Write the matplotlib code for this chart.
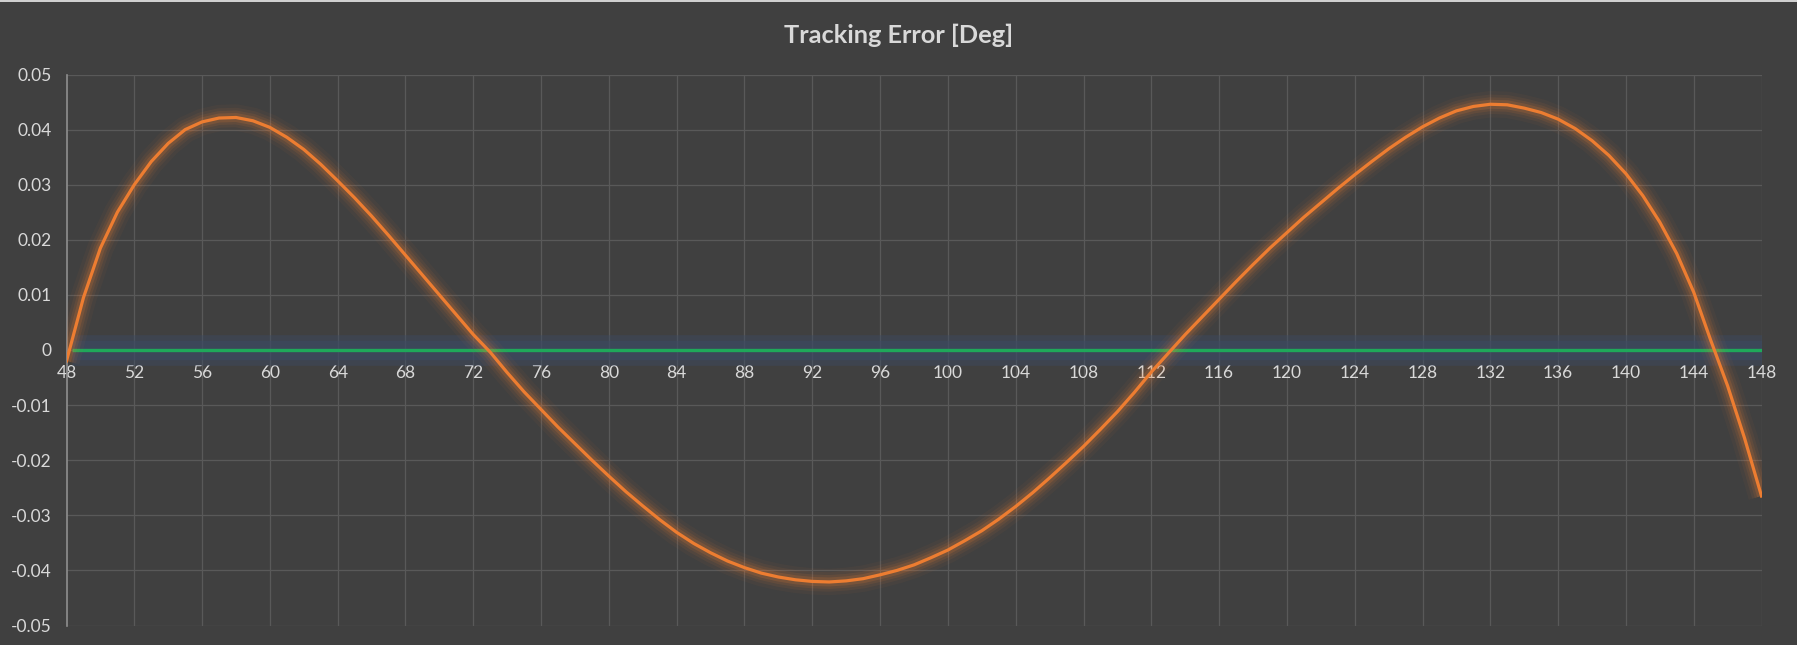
import matplotlib
matplotlib.use("Agg")
import matplotlib.pyplot as plt
from matplotlib.patches import Rectangle

# tracking error, one value per degree from 48 to 148
angle = list(range(48, 149))
error = [-0.0020, 0.0095, 0.0185, 0.0250, 0.0300, 0.0342, 0.0375, 0.0400,
         0.0414, 0.0421, 0.0422, 0.0416, 0.0404, 0.0386, 0.0364, 0.0337,
         0.0307, 0.0276, 0.0243, 0.0208, 0.0172, 0.0136, 0.0100, 0.0064,
         0.0028, -0.0004, -0.0041, -0.0076, -0.0108, -0.0140, -0.0170, -0.0200,
         -0.0229, -0.0257, -0.0283, -0.0308, -0.0331, -0.0351, -0.0368, -0.0383,
         -0.0395, -0.0405, -0.0412, -0.0417, -0.0420, -0.0421, -0.0419, -0.0415,
         -0.0408, -0.0400, -0.0390, -0.0377, -0.0363, -0.0346, -0.0328, -0.0307,
         -0.0284, -0.0259, -0.0232, -0.0204, -0.0175, -0.0144, -0.0112, -0.0077,
         -0.0040, -0.0006, 0.0028, 0.0060, 0.0092, 0.0124, 0.0155, 0.0185,
         0.0213, 0.0241, 0.0267, 0.0293, 0.0318, 0.0342, 0.0365, 0.0386,
         0.0405, 0.0421, 0.0434, 0.0442, 0.0446, 0.0445, 0.0439, 0.0431,
         0.0419, 0.0402, 0.0380, 0.0353, 0.0320, 0.0280, 0.0232, 0.0175,
         0.0105, 0.0018, -0.0065, -0.0160, -0.0265]

# zero reference line
zero_x = [48.3, 148]
zero_y = [0.0, 0.0]

x_ticks = list(range(48, 149, 4))
y_ticks = [-0.05, -0.04, -0.03, -0.02, -0.01, 0, 0.01, 0.02, 0.03, 0.04, 0.05]
y_labels = ['-0.05', '-0.04', '-0.03', '-0.02', '-0.01', '0',
            '0.01', '0.02', '0.03', '0.04', '0.05']

bg = '#404040'
txt = '#d9d9d9'
orange = '#ed7d31'
green = '#1fa85a'

plt.rcParams['font.family'] = ['Lato', 'DejaVu Sans']

fig = plt.figure(figsize=(17.97, 6.45), dpi=100, facecolor=bg)
ax = fig.add_axes([66.5 / 1797, 19.5 / 645, (1761.5 - 66.5) / 1797, (625.5 - 74.5) / 645])
ax.set_facecolor(bg)

# glow under the zero line
ax.plot(zero_x, zero_y, color='#3c4a63', lw=22, alpha=0.45, solid_capstyle='butt', zorder=2)
ax.plot(zero_x, zero_y, color='#3c4a63', lw=14, alpha=0.5, solid_capstyle='butt', zorder=2)
ax.plot(zero_x, zero_y, color=green, lw=2.4, solid_capstyle='butt', zorder=3)

# glow under the error curve
for w, a in [(19, 0.045), (14, 0.07), (10, 0.1), (6.5, 0.16)]:
    ax.plot(angle, error, color=orange, lw=w, alpha=a, solid_capstyle='butt', zorder=4)
ax.plot(angle, error, color=orange, lw=2.3, zorder=5)

ax.set_xlim(48, 148)
ax.set_ylim(-0.05, 0.05)
ax.set_xticks(x_ticks)
ax.set_yticks(y_ticks)
ax.set_yticklabels(y_labels)
ax.grid(True, color='#595959', lw=0.9, zorder=0)
ax.set_axisbelow(True)

for s in ['top', 'right']:
    ax.spines[s].set_visible(False)
ax.spines['bottom'].set_position(('data', 0))
ax.spines['bottom'].set_color('none')
ax.spines['left'].set_color('#8f8f8f')
ax.spines['left'].set_linewidth(1.2)

ax.tick_params(axis='both', length=0, labelcolor=txt, labelsize=12.5)
ax.tick_params(axis='x', pad=11)
ax.tick_params(axis='y', pad=10.5)

fig.text(898.5 / 1797, 1 - 35 / 645, 'Tracking Error [Deg]', color=txt,
         fontsize=18.3, fontweight='bold', ha='center', va='center')

fig.add_artist(Rectangle((0, 1 - 2 / 645), 1, 2 / 645, transform=fig.transFigure,
                         color='#d0d0d0', lw=0))

fig.savefig('out.png', dpi=100, facecolor=bg)
